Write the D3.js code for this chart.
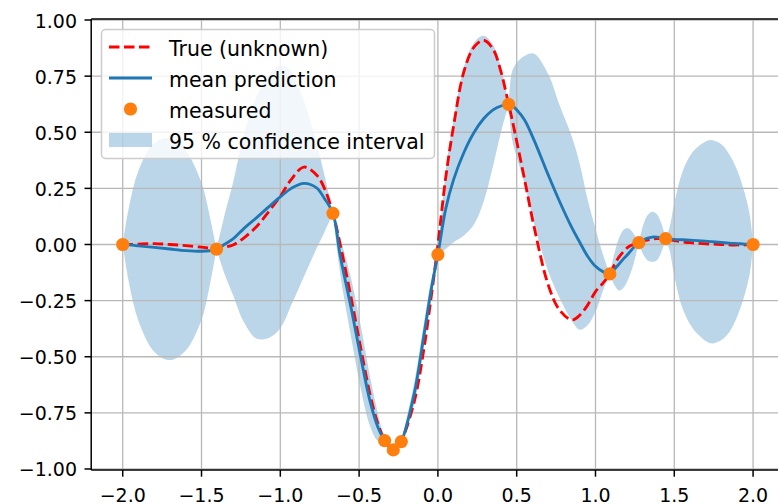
<!DOCTYPE html>
<html>
<head>
<meta charset="utf-8">
<script src="https://cdn.jsdelivr.net/npm/d3@7"></script>
<style>
  body { margin: 0; background: #fff; }
  svg { display: block; font-family: "DejaVu Sans", sans-serif; }
</style>
</head>
<body>
<div class="container"></div>
<script>
// sample positions along x (denser near the measured points)
const xs = [-2.0, -1.96, -1.9, -1.8, -1.7, -1.6, -1.5, -1.45, -1.405, -1.35,
  -1.3, -1.23, -1.15, -1.07, -1.0, -0.93, -0.85, -0.77, -0.72, -0.666,
  -0.62, -0.55, -0.49, -0.43, -0.38, -0.338, -0.31, -0.283, -0.26, -0.232,
  -0.15, -0.09, -0.04, 0.0, 0.05, 0.1, 0.165, 0.23, 0.29, 0.35,
  0.4, 0.449, 0.47, 0.5, 0.55, 0.61, 0.7, 0.77, 0.85, 0.9,
  0.95, 1.0, 1.05, 1.091, 1.12, 1.15, 1.18, 1.21, 1.24, 1.275,
  1.3, 1.33, 1.36, 1.39, 1.42, 1.445, 1.47, 1.5, 1.55, 1.6,
  1.65, 1.73, 1.8, 1.85, 1.9, 1.95, 1.98, 2.0];

// red dashed "true" function
const trueY = [0.0, 0.0, 0.002, 0.004, 0.0, -0.005, -0.012, -0.016, -0.021, -0.012,
  -0.002, 0.03, 0.08, 0.15, 0.215, 0.29, 0.345, 0.31, 0.25, 0.139,
  0.0, -0.24, -0.46, -0.67, -0.8, -0.87, -0.895, -0.905, -0.9, -0.875,
  -0.7, -0.47, -0.22, 0.0, 0.3, 0.53, 0.77, 0.88, 0.91, 0.87,
  0.77, 0.624, 0.56, 0.46, 0.29, 0.08, -0.18, -0.29, -0.336, -0.315,
  -0.27, -0.21, -0.17, -0.131, -0.09, -0.055, -0.03, -0.01, 0.0, 0.008,
  0.015, 0.02, 0.024, 0.026, 0.026, 0.026, 0.022, 0.017, 0.012, 0.008,
  0.005, 0.002, 0.0, -0.002, -0.002, -0.002, -0.001, 0.0];

// blue mean prediction
const meanY = [0.0, -0.002, -0.006, -0.013, -0.02, -0.027, -0.03, -0.028, -0.021, 0.002,
  0.025, 0.072, 0.12, 0.17, 0.212, 0.25, 0.272, 0.252, 0.205, 0.139,
  -0.05, -0.285, -0.5, -0.7, -0.815, -0.874, -0.902, -0.915, -0.905, -0.878,
  -0.663, -0.41, -0.19, -0.045, 0.16, 0.29, 0.41, 0.5, 0.56, 0.6,
  0.617, 0.624, 0.62, 0.6, 0.555, 0.465, 0.31, 0.195, 0.075, 0.01,
  -0.052, -0.097, -0.122, -0.131, -0.11, -0.087, -0.062, -0.04, -0.015, 0.008,
  0.018, 0.028, 0.033, 0.033, 0.03, 0.026, 0.025, 0.023, 0.021, 0.019,
  0.017, 0.013, 0.009, 0.006, 0.004, 0.002, 0.001, 0.0];

// 95 % band, lower and upper edges
const lowerY = [0.0, -0.172, -0.341, -0.478, -0.515, -0.472, -0.335, -0.19, -0.021, -0.138,
  -0.225, -0.348, -0.42, -0.415, -0.373, -0.27, -0.143, -0.018, 0.055, 0.139,
  -0.13, -0.415, -0.64, -0.81, -0.875, -0.874, -0.91, -0.915, -0.912, -0.878,
  -0.71, -0.465, -0.23, -0.045, -0.02, 0.01, 0.04, 0.09, 0.19, 0.35,
  0.5, 0.624, 0.47, 0.39, 0.27, 0.095, -0.12, -0.235, -0.34, -0.38,
  -0.36, -0.3, -0.2, -0.131, -0.18, -0.205, -0.19, -0.15, -0.09, 0.008,
  -0.04, -0.07, -0.077, -0.07, -0.03, 0.026, -0.025, -0.14, -0.28, -0.355,
  -0.4, -0.44, -0.425, -0.39, -0.32, -0.215, -0.125, 0.0];
const upperY = [0.0, 0.168, 0.329, 0.452, 0.475, 0.418, 0.275, 0.134, -0.021, 0.142,
  0.275, 0.492, 0.66, 0.755, 0.797, 0.77, 0.64, 0.45, 0.31, 0.139,
  0.03, -0.155, -0.36, -0.59, -0.755, -0.874, -0.894, -0.915, -0.898, -0.878,
  -0.615, -0.355, -0.15, -0.045, 0.33, 0.56, 0.79, 0.9, 0.93, 0.89,
  0.79, 0.624, 0.77, 0.81, 0.84, 0.85, 0.76, 0.625, 0.48, 0.36,
  0.2, 0.07, -0.05, -0.131, -0.04, 0.03, 0.067, 0.072, 0.05, 0.008,
  0.08, 0.13, 0.146, 0.135, 0.09, 0.026, 0.075, 0.185, 0.32, 0.395,
  0.435, 0.465, 0.445, 0.4, 0.33, 0.22, 0.127, 0.0];

// orange measured points
const measuredX = [-2.0, -1.405, -0.666, -0.338, -0.283, -0.232, 0.0, 0.449, 1.091, 1.275, 1.445, 2.0];
const measuredY = [0.0, -0.021, 0.139, -0.874, -0.915, -0.878, -0.045, 0.624, -0.131, 0.008, 0.026, 0.0];

const xTicks = [-2, -1.5, -1, -0.5, 0, 0.5, 1, 1.5, 2];
const yTicks = [-1, -0.75, -0.5, -0.25, 0, 0.25, 0.5, 0.75, 1];
const legendLabels = ["True (unknown)", "mean prediction", "measured", "95 % confidence interval"];

const W = 778, H = 504;
const pLeft = 91.2, pRight = 784.6, pTop = 19, pBottom = 470;

const x = d3.scaleLinear().domain([-2.2, 2.2]).range([pLeft, pRight]);
const y = d3.scaleLinear().domain([-1.0045, 1.0045]).range([pBottom, pTop]);

const svg = d3.select(".container").append("svg")
  .attr("width", W).attr("height", H);

svg.append("clipPath").attr("id", "plot-clip")
  .append("rect")
  .attr("x", pLeft).attr("y", pTop)
  .attr("width", pRight - pLeft).attr("height", pBottom - pTop);

const rows = xs.map((v, i) => ({ x: v, t: trueY[i], m: meanY[i], lo: lowerY[i], hi: upperY[i] }));

const plot = svg.append("g").attr("clip-path", "url(#plot-clip)");

// band: one piece per gap between measured points so the pinches stay sharp
const pieces = [];
let cur = [];
rows.forEach((r, i) => {
  cur.push(r);
  if (i > 0 && measuredX.includes(r.x)) {
    pieces.push(cur);
    cur = [r];
  }
});

const band = d3.area()
  .x((d) => x(d.x))
  .y0((d) => y(d.lo))
  .y1((d) => y(d.hi))
  .curve(d3.curveCatmullRom);

plot.selectAll("path.band")
  .data(pieces)
  .enter()
  .append("path")
  .attr("class", "band")
  .attr("d", band)
  .attr("fill", "#1f77b4")
  .attr("fill-opacity", 0.3);

// grid sits above the band, below the lines
const grid = svg.append("g");
grid.selectAll("line.gx")
  .data(xTicks)
  .enter()
  .append("line")
  .attr("x1", (d) => x(d)).attr("x2", (d) => x(d))
  .attr("y1", pTop).attr("y2", pBottom)
  .attr("stroke", "#b8b8b8").attr("stroke-width", 1.3);
grid.selectAll("line.gy")
  .data(yTicks)
  .enter()
  .append("line")
  .attr("x1", pLeft).attr("x2", pRight)
  .attr("y1", (d) => y(d)).attr("y2", (d) => y(d))
  .attr("stroke", "#b8b8b8").attr("stroke-width", 1.3);

const lines = svg.append("g").attr("clip-path", "url(#plot-clip)");

lines.append("path")
  .datum(rows)
  .attr("d", d3.line().x((d) => x(d.x)).y((d) => y(d.t)).curve(d3.curveCatmullRom))
  .attr("fill", "none")
  .attr("stroke", "#ff0000")
  .attr("stroke-width", 2.85)
  .attr("stroke-dasharray", "10.5,4.5");

lines.append("path")
  .datum(rows)
  .attr("d", d3.line().x((d) => x(d.x)).y((d) => y(d.m)).curve(d3.curveCatmullRom))
  .attr("fill", "none")
  .attr("stroke", "#1f77b4")
  .attr("stroke-width", 2.85);

lines.selectAll("circle")
  .data(measuredX)
  .enter()
  .append("circle")
  .attr("cx", (d) => x(d))
  .attr("cy", (d, i) => y(measuredY[i]))
  .attr("r", 6.6)
  .attr("fill", "#ff7f0e");

// spines, ticks and labels
const axes = svg.append("g").attr("stroke", "#000").attr("stroke-width", 1.5);
axes.append("line").attr("x1", pLeft).attr("x2", pLeft).attr("y1", pTop).attr("y2", pBottom);
axes.append("line").attr("x1", pLeft).attr("x2", pRight).attr("y1", pBottom).attr("y2", pBottom);
axes.append("line").attr("x1", pLeft).attr("x2", pRight).attr("y1", pTop).attr("y2", pTop);
axes.append("line").attr("x1", pRight).attr("x2", pRight).attr("y1", pTop).attr("y2", pBottom);

axes.selectAll("line.tx")
  .data(xTicks)
  .enter()
  .append("line")
  .attr("x1", (d) => x(d)).attr("x2", (d) => x(d))
  .attr("y1", pBottom).attr("y2", pBottom + 6.7);
axes.selectAll("line.ty")
  .data(yTicks)
  .enter()
  .append("line")
  .attr("x1", pLeft - 6.7).attr("x2", pLeft)
  .attr("y1", (d) => y(d)).attr("y2", (d) => y(d));

const fx = d3.format(".1f");
const fy = d3.format(".2f");

svg.selectAll("text.xt")
  .data(xTicks)
  .enter()
  .append("text")
  .attr("x", (d) => x(d))
  .attr("y", 502)
  .attr("text-anchor", "middle")
  .attr("font-size", 19)
  .attr("fill", "#000")
  .text((d) => fx(d));

svg.selectAll("text.yt")
  .data(yTicks)
  .enter()
  .append("text")
  .attr("x", 77)
  .attr("y", (d) => y(d) + 7.5)
  .attr("text-anchor", "end")
  .attr("font-size", 19)
  .attr("fill", "#000")
  .text((d) => fy(d));

// legend
const legend = svg.append("g");
legend.append("rect")
  .attr("x", 101.5).attr("y", 29.5)
  .attr("width", 333).attr("height", 129)
  .attr("rx", 4)
  .attr("fill", "#fff").attr("fill-opacity", 0.8)
  .attr("stroke", "#cccccc").attr("stroke-width", 1.5);

const rowY = (i) => 47 + i * 31;

legend.append("line")
  .attr("x1", 109).attr("x2", 152)
  .attr("y1", rowY(0)).attr("y2", rowY(0))
  .attr("stroke", "#ff0000").attr("stroke-width", 2.85)
  .attr("stroke-dasharray", "10.5,4.5");
legend.append("line")
  .attr("x1", 109).attr("x2", 152)
  .attr("y1", rowY(1)).attr("y2", rowY(1))
  .attr("stroke", "#1f77b4").attr("stroke-width", 2.85);
legend.append("circle")
  .attr("cx", 130.5).attr("cy", rowY(2))
  .attr("r", 6.6)
  .attr("fill", "#ff7f0e");
legend.append("rect")
  .attr("x", 109).attr("y", rowY(3) - 7)
  .attr("width", 43).attr("height", 14)
  .attr("fill", "#1f77b4").attr("fill-opacity", 0.3);

legend.selectAll("text")
  .data(legendLabels)
  .enter()
  .append("text")
  .attr("x", 169)
  .attr("y", (d, i) => rowY(i) + 8.5)
  .attr("font-size", 20.5)
  .attr("fill", "#000")
  .text((d) => d);
</script>
</body>
</html>
